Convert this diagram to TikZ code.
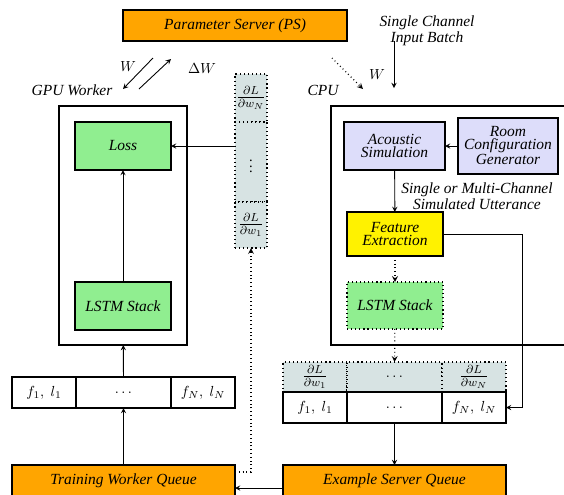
\documentclass[tikz,border=0pt]{standalone}
\usepackage{fontspec}
\setmainfont{Liberation Serif}
\newcommand{\pxu}{0.685pt}
\definecolor{queueorange}{RGB}{255,165,0}
\definecolor{lstmgreen}{RGB}{144,238,144}
\definecolor{simblue}{RGB}{221,221,250}
\definecolor{gradfill}{RGB}{215,227,227}

\begin{document}
\begin{tikzpicture}[x=\pxu, y=-\pxu, >=stealth,
		box/.style = {draw, thick, inner sep=0pt, outer sep=0pt, align=center, font=\fontsize{10.6}{8.9}\selectfont\itshape},
		cell/.style = {draw, thick, inner sep=0pt, outer sep=0pt},
		gradcell/.style = {draw, thick, dotted, fill=gradfill, inner sep=0pt, outer sep=0pt},
		frac/.style = {font=\large},
		lbl/.style = {font=\fontsize{10.6}{8.9}\selectfont\itshape, align=center, inner sep=1pt},
		arr/.style = {->, semithick}]
		\useasboundingbox (0,0) rectangle (564,495);
		
		% parameter server and workers
		\node[box, fill=queueorange, minimum width=224*\pxu, minimum height=31*\pxu] (ps) at (235,25.5) {Parameter Server (PS)};
		\node[box, minimum width=128*\pxu, minimum height=239*\pxu] (gpu) at (123,225.5) {};
		\node[box, minimum width=244*\pxu, minimum height=239*\pxu] (cpu) at (453,225.5) {};
		\node[lbl] (gpulbl) at (72,90) {GPU Worker};
		\node[lbl] (cpulbl) at (323,90) {CPU};
		\node[lbl] (input) at (427,31) {Single Channel\\Input Batch};
		
		% GPU worker
		\node[box, fill=lstmgreen, minimum width=96*\pxu, minimum height=48*\pxu] (loss) at (123,146) {Loss};
		\node[box, fill=lstmgreen, minimum width=96*\pxu, minimum height=48*\pxu] (lstml) at (123,306) {LSTM Stack};
		
		% gradients sent back
		\node[gradcell, frac, minimum width=32*\pxu, minimum height=48*\pxu] (gN) at (251,98) {$\frac{\partial L}{\partial w_N}$};
		\node[gradcell, minimum width=32*\pxu, minimum height=80*\pxu] (gdots) at (251,162) {$\vdots$};
		\node[gradcell, frac, minimum width=32*\pxu, minimum height=46*\pxu] (g1) at (251,225) {$\frac{\partial L}{\partial w_1}$};
		
		% CPU worker
		\node[box, fill=simblue, minimum width=101*\pxu, minimum height=48*\pxu] (acoustic) at (394.5,146) {Acoustic\\Simulation};
		\node[box, fill=simblue, minimum width=100*\pxu, minimum height=56*\pxu] (room) at (508,146) {Room\\Configuration\\Generator};
		\node[box, fill=yellow, minimum width=96*\pxu, minimum height=44*\pxu] (feat) at (395,234) {Feature\\Extraction};
		\node[box, dotted, fill=lstmgreen, minimum width=96*\pxu, minimum height=47*\pxu] (lstmr) at (395,305.5) {LSTM Stack};
		\node[lbl] (utt) at (477,196) {Single or Multi-Channel\\Simulated Utterance};
		
		% example batches
		\node[cell, minimum width=64*\pxu, minimum height=31*\pxu] (fl1) at (44,392.5) {$f_1,\;l_1$};
		\node[cell, minimum width=95*\pxu, minimum height=31*\pxu] (fldots) at (123.5,392.5) {$\ldots$};
		\node[cell, minimum width=64*\pxu, minimum height=31*\pxu] (flN) at (203,392.5) {$f_N,\;l_N$};
		\node[gradcell, frac, minimum width=64*\pxu, minimum height=30*\pxu] (gr1) at (315,377) {$\frac{\partial L}{\partial w_1}$};
		\node[gradcell, minimum width=95*\pxu, minimum height=30*\pxu] (grdots) at (394.5,377) {$\ldots$};
		\node[gradcell, frac, minimum width=64*\pxu, minimum height=30*\pxu] (grN) at (474,377) {$\frac{\partial L}{\partial w_N}$};
		\node[cell, minimum width=64*\pxu, minimum height=31*\pxu] (fr1) at (315,407.5) {$f_1,\;l_1$};
		\node[cell, minimum width=95*\pxu, minimum height=31*\pxu] (frdots) at (394.5,407.5) {$\ldots$};
		\node[cell, minimum width=64*\pxu, minimum height=31*\pxu] (frN) at (474,407.5) {$f_N,\;l_N$};
		
		% queues
		\node[box, fill=queueorange, minimum width=223*\pxu, minimum height=32*\pxu] (twq) at (123.5,481) {Training Worker Queue};
		\node[box, fill=queueorange, minimum width=223*\pxu, minimum height=32*\pxu] (esq) at (394.5,481) {Example Server Queue};
		
		% weight exchange
		\coordinate (wdown0) at (153,58);
		\coordinate (wdown1) at (123,89);
		\coordinate (wup0) at (139,89);
		\coordinate (wup1) at (171,59);
		\coordinate (wcpu0) at (332,58);
		\coordinate (wcpu1) at (363,89);
		\coordinate (in0) at (394,41);
		\coordinate (in1) at (394,88);
		\draw[arr] (wdown0) -- (wdown1);
		\draw[arr] (wup0) -- (wup1);
		\draw[arr, dotted, thick] (wcpu0) -- (wcpu1);
		\draw[arr] (in0) -- (in1);
		\node (wl) at (128,67) {$W$};
		\node (dwl) at (202,69) {$\Delta W$};
		\node (wr) at (377,75) {$W$};
		
		\draw[arr] (lstml) -- (loss);
		\draw[arr] (gdots.west |- loss) -- (loss.east);
		\draw[arr] (fldots) -- (gpu);
		\draw[arr] (twq) -- (fldots);
		\draw[arr, dotted, thick] ([yshift=9*\pxu]twq.east) -| (g1.south);
		\draw[arr] ([yshift=-7*\pxu]esq.west) -- ([yshift=-7*\pxu]twq.east);
		\draw[arr] (room) -- (acoustic);
		\draw[arr] (acoustic) -- (feat);
		\draw[arr, dotted, thick] (feat) -- (lstmr);
		\draw[arr, dotted, thick] (lstmr) -- (grdots);
		\draw[arr] (frdots) -- (esq);
		\draw[arr] (feat.east) -| ([xshift=16*\pxu]frN.east) |- (frN.east);
	\end{tikzpicture}
\end{document}
